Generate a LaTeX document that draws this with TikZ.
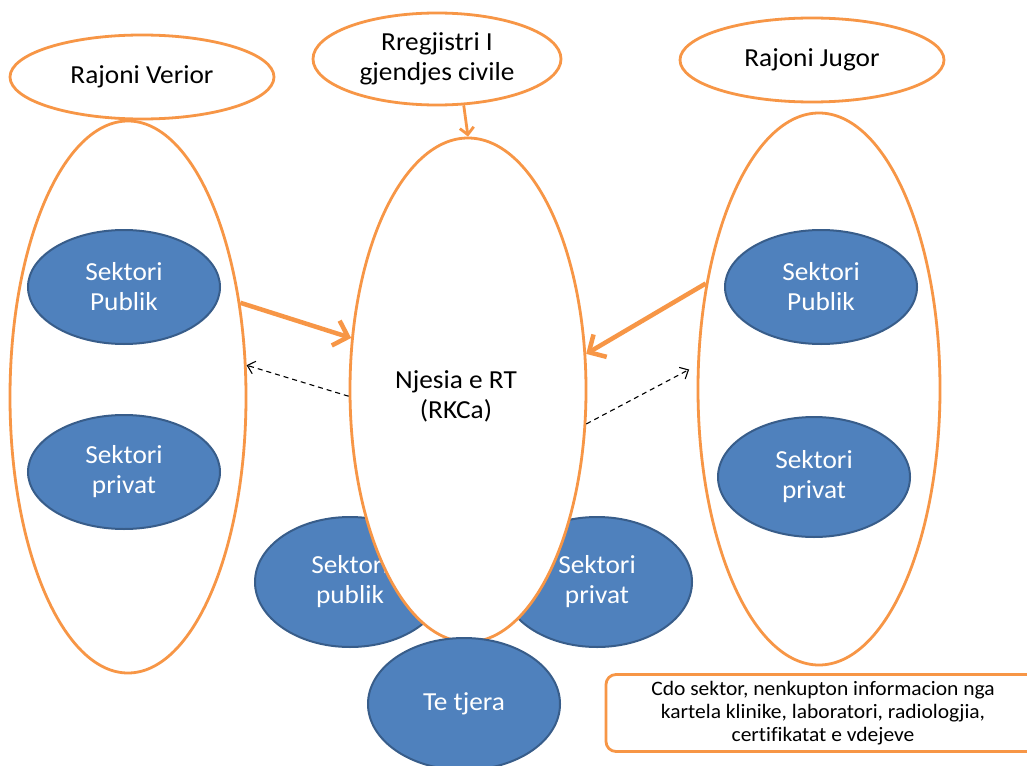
\documentclass[tikz,border=0pt]{standalone}
\usepackage{fontspec}
\setmainfont{Carlito}[FakeStretch=1.05,Ligatures=NoCommon]
\usetikzlibrary{shapes.geometric,arrows.meta}
\definecolor{orng}{HTML}{F79646}
\definecolor{blfill}{HTML}{4F81BD}
\definecolor{bldraw}{HTML}{385D8A}
\tikzset{
  oell/.style={ellipse, draw=orng, line width=2.8pt, fill=white, inner sep=0pt, align=center, font=\fontsize{26}{30}\selectfont},
  bell/.style={ellipse, draw=bldraw, line width=2pt, fill=blfill, text=white, inner sep=0pt, align=center, font=\fontsize{26}{30}\selectfont},
  lbl/.style={inner sep=0pt, align=center, font=\fontsize{26}{30}\selectfont},
  thickarr/.style={draw=orng, line width=4.5pt, -{Straight Barb[length=13pt,width=26pt]}},
  thinarr/.style={draw=orng, line width=2.8pt, -{Straight Barb[length=7pt,width=14pt]}},
  dasharr/.style={draw=black, line width=1.1pt, dash pattern=on 5pt off 4pt, -{Straight Barb[length=7pt,width=13pt]}},
  notebox/.style={draw=orng, line width=2.8pt, rounded corners=10pt, fill=white, inner sep=0pt, align=center, font=\fontsize{20.5}{23}\selectfont}
}
\begin{document}
\begin{tikzpicture}[x=1pt,y=-1pt]
\clip (0,0) rectangle (1027,765);
\fill[white] (0,0) rectangle (1027,765);
% top ellipses
\node[oell, minimum width=264pt, minimum height=84pt] (RV) at (142,77) {Rajoni Verior};
\node[oell, minimum width=248pt, minimum height=92pt] (RR) at (437,59) {Rregjistri I\\gjendjes civile};
\node[oell, minimum width=264pt, minimum height=84pt] (RJ) at (812,60) {Rajoni Jugor};
% big side ellipses
\node[oell, minimum width=236pt, minimum height=552pt] (LB) at (128,397) {};
\node[oell, minimum width=242pt, minimum height=552pt] (RB) at (819,389) {};
% blue sectors in regions
\node[bell, minimum width=192pt, minimum height=114pt] (LP) at (124,287) {Sektori\\Publik};
\node[bell, minimum width=192pt, minimum height=114pt] (LR) at (124,472) {Sektori\\privat};
\node[bell, minimum width=192pt, minimum height=114pt] (RP) at (821,287) {Sektori\\Publik};
\node[bell, minimum width=192pt, minimum height=120pt] (RR2) at (814,477) {Sektori\\privat};
% bottom sectors
\node[bell, minimum width=190pt, minimum height=130pt] (BP) at (350,582) {Sektori\\publik};
\node[bell, minimum width=190pt, minimum height=130pt] (BR) at (597,582) {Sektori\\privat};
% central unit
\node[oell, minimum width=236pt, minimum height=504pt] (C) at (468,390) {};
\node[lbl] (CL) at (456,396) {Njesia e RT\\(RKCa)};
% others
\node[bell, minimum width=192pt, minimum height=132pt] (TT) at (464,704) {Te tjera};
% note box
\node[notebox, minimum width=434pt, minimum height=77pt] (NB) at (823,713) {Cdo sektor, nenkupton informacion nga\\kartela klinike, laboratori, radiologjia,\\certifikatat e vdejeve};
% connectors
\draw[thinarr] (RR.-60.5) -- (C.north);
\draw[thickarr] (LB.40) -- (C.156);
\draw[thickarr] (RB.137.4) -- (C.17.3);
\draw[dasharr] (C.183.9) -- (LB.15);
\draw[dasharr, shorten >=9pt] (C.-16.2) -- (RB.169.5);
\end{tikzpicture}
\end{document}
